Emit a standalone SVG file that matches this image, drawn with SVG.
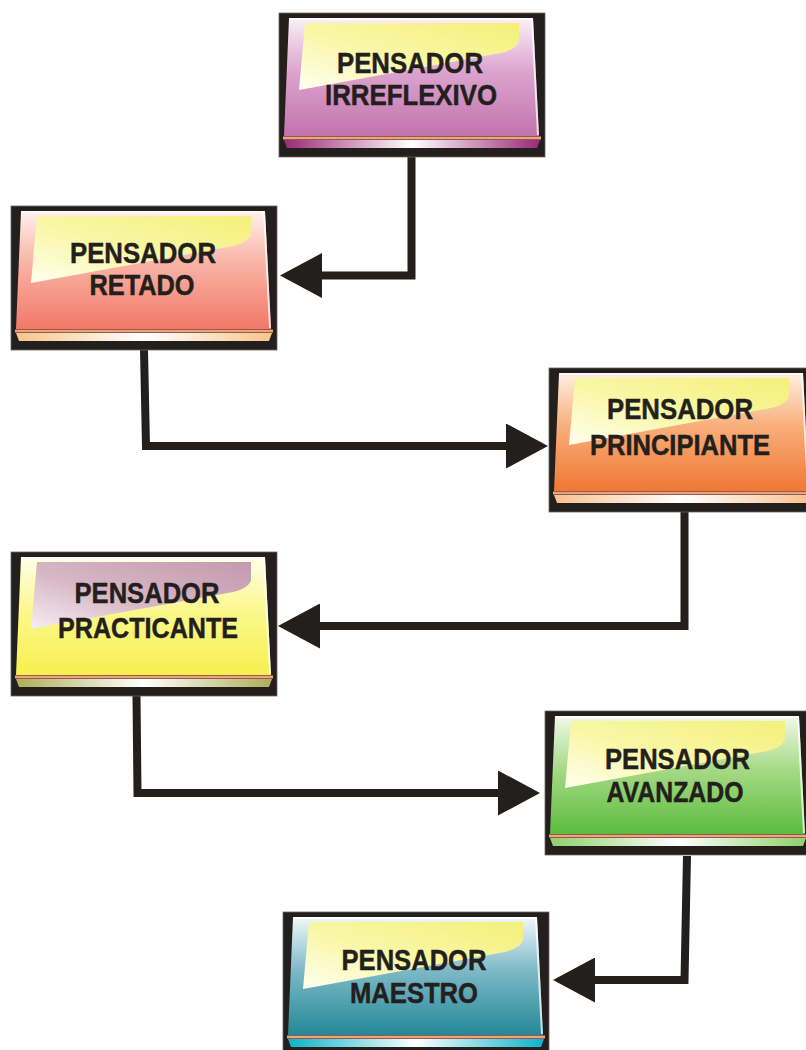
<svg xmlns="http://www.w3.org/2000/svg" width="806" height="1050" viewBox="0 0 806 1050">
  <style>
    .frame { fill: #231f1c; stroke: #6b6865; stroke-width: 0.8; }
    .edge { fill: none; stroke: #ffffff; stroke-width: 2; stroke-opacity: 0.75; }
    .rule { fill: #f4a07c; }
    .label { font-family: "Liberation Sans", Arial, sans-serif; font-weight: bold; font-size: 30px; fill: #231f1c; stroke: #231f1c; stroke-width: 0.5; text-anchor: middle; }
    .wire { fill: none; stroke: #231f1c; stroke-width: 8; stroke-linejoin: miter; marker-end: url(#head); }
  </style>
  <defs>
    <marker id="head" viewBox="0 0 42 45" refX="22" refY="22.5" markerWidth="42" markerHeight="45" markerUnits="userSpaceOnUse" orient="auto">
      <path d="M0,0 L42,22.5 L0,45 Z" fill="#231f1c"/>
    </marker>

    <!-- card faces -->
    <linearGradient id="face1" x1="0" y1="0" x2="0" y2="1">
      <stop offset="0" stop-color="#fbf0f8"/><stop offset="0.45" stop-color="#dca4cf"/><stop offset="1" stop-color="#c274ab"/>
    </linearGradient>
    <linearGradient id="face2" x1="0" y1="0" x2="0" y2="1">
      <stop offset="0" stop-color="#fff0ec"/><stop offset="0.45" stop-color="#f9b2a4"/><stop offset="1" stop-color="#f27868"/>
    </linearGradient>
    <linearGradient id="face3" x1="0" y1="0" x2="0" y2="1">
      <stop offset="0" stop-color="#fff0e4"/><stop offset="0.45" stop-color="#f8ae7a"/><stop offset="1" stop-color="#f07834"/>
    </linearGradient>
    <linearGradient id="face4" x1="0" y1="0" x2="0" y2="1">
      <stop offset="0" stop-color="#ffffe8"/><stop offset="0.45" stop-color="#fbf88e"/><stop offset="1" stop-color="#f6f04e"/>
    </linearGradient>
    <linearGradient id="face5" x1="0" y1="0" x2="0" y2="1">
      <stop offset="0" stop-color="#f0fae8"/><stop offset="0.45" stop-color="#a6da86"/><stop offset="1" stop-color="#5cbc3e"/>
    </linearGradient>
    <linearGradient id="face6" x1="0" y1="0" x2="0" y2="1">
      <stop offset="0" stop-color="#f0f8fa"/><stop offset="0.45" stop-color="#7eb9c6"/><stop offset="1" stop-color="#248898"/>
    </linearGradient>

    <!-- base strips -->
    <linearGradient id="strip1"><stop offset="0" stop-color="#9a2878"/><stop offset="0.5" stop-color="#ffffff"/><stop offset="1" stop-color="#9a2878"/></linearGradient>
    <linearGradient id="strip2"><stop offset="0" stop-color="#f8c48c"/><stop offset="0.5" stop-color="#ffffff"/><stop offset="1" stop-color="#f8c48c"/></linearGradient>
    <linearGradient id="strip3"><stop offset="0" stop-color="#f8c090"/><stop offset="0.5" stop-color="#ffffff"/><stop offset="1" stop-color="#f8c090"/></linearGradient>
    <linearGradient id="strip4"><stop offset="0" stop-color="#aeae58"/><stop offset="0.5" stop-color="#ffffff"/><stop offset="1" stop-color="#aeae58"/></linearGradient>
    <linearGradient id="strip5"><stop offset="0" stop-color="#8ed06a"/><stop offset="0.5" stop-color="#ffffff"/><stop offset="1" stop-color="#8ed06a"/></linearGradient>
    <linearGradient id="strip6"><stop offset="0" stop-color="#0cb2c8"/><stop offset="0.5" stop-color="#ffffff"/><stop offset="1" stop-color="#0cb2c8"/></linearGradient>

    <!-- glossy sheen -->
    <linearGradient id="sheen" x1="1" y1="0" x2="0" y2="1">
      <stop offset="0" stop-color="#f4f07a"/><stop offset="0.55" stop-color="#f9f7a8"/><stop offset="1" stop-color="#fffff0"/>
    </linearGradient>
    <linearGradient id="sheenMauve" x1="1" y1="0" x2="0" y2="1">
      <stop offset="0" stop-color="#c49aae"/><stop offset="0.55" stop-color="#d6b6c4"/><stop offset="1" stop-color="#f6eef2"/>
    </linearGradient>

    <!-- card parts shared by every node -->
    <rect id="cardFrame" class="frame" x="0" y="0" width="266" height="144"/>
    <polygon id="cardFace" points="10,5 254,5 260,123 5,123"/>
    <path id="cardSheen" d="M26,10 L240,10 L240,28 Q238,36 222,40 L20,77 Z"/>
    <polyline id="cardEdge" class="edge" points="11,6 253,6 259,122"/>
    <rect id="cardRule" class="rule" x="4" y="123.5" width="258" height="3"/>
    <polygon id="cardStrip" points="5,127 261,127 258,135 8,135"/>
  </defs>

  <g id="connectors">
    <path class="wire" d="M411.5,157 V275.5 H300"/>
    <path class="wire" d="M144,350 L146,446 H528"/>
    <path class="wire" d="M684.5,512 V626 H298"/>
    <path class="wire" d="M136.5,696 L137.5,793 H520"/>
    <path class="wire" d="M687,856 L684.5,980 H573"/>
  </g>

  <g id="pensador-irreflexivo" transform="translate(279,13)">
    <use href="#cardFrame"/>
    <use href="#cardFace" fill="url(#face1)"/>
    <use href="#cardSheen" fill="url(#sheen)"/>
    <use href="#cardEdge"/>
    <use href="#cardRule"/>
    <use href="#cardStrip" fill="url(#strip1)"/>
    <text class="label" x="131" y="60" textLength="146" lengthAdjust="spacingAndGlyphs">PENSADOR</text>
    <text class="label" x="132" y="92" textLength="172" lengthAdjust="spacingAndGlyphs">IRREFLEXIVO</text>
  </g>

  <g id="pensador-retado" transform="translate(11,206)">
    <use href="#cardFrame"/>
    <use href="#cardFace" fill="url(#face2)"/>
    <use href="#cardSheen" fill="url(#sheen)"/>
    <use href="#cardEdge"/>
    <use href="#cardRule"/>
    <use href="#cardStrip" fill="url(#strip2)"/>
    <text class="label" x="132" y="57" textLength="146" lengthAdjust="spacingAndGlyphs">PENSADOR</text>
    <text class="label" x="131" y="89" textLength="105" lengthAdjust="spacingAndGlyphs">RETADO</text>
  </g>

  <g id="pensador-principiante" transform="translate(549,368)">
    <use href="#cardFrame"/>
    <use href="#cardFace" fill="url(#face3)"/>
    <use href="#cardSheen" fill="url(#sheen)"/>
    <use href="#cardEdge"/>
    <use href="#cardRule"/>
    <use href="#cardStrip" fill="url(#strip3)"/>
    <text class="label" x="131" y="51" textLength="146" lengthAdjust="spacingAndGlyphs">PENSADOR</text>
    <text class="label" x="131" y="87" textLength="180" lengthAdjust="spacingAndGlyphs">PRINCIPIANTE</text>
  </g>

  <g id="pensador-practicante" transform="translate(11,552)">
    <use href="#cardFrame"/>
    <use href="#cardFace" fill="url(#face4)"/>
    <use href="#cardSheen" fill="url(#sheenMauve)"/>
    <use href="#cardEdge"/>
    <use href="#cardRule"/>
    <use href="#cardStrip" fill="url(#strip4)"/>
    <text class="label" x="136" y="51" textLength="145" lengthAdjust="spacingAndGlyphs">PENSADOR</text>
    <text class="label" x="137" y="86" textLength="180" lengthAdjust="spacingAndGlyphs">PRACTICANTE</text>
  </g>

  <g id="pensador-avanzado" transform="translate(545,711)">
    <use href="#cardFrame"/>
    <use href="#cardFace" fill="url(#face5)"/>
    <use href="#cardSheen" fill="url(#sheen)"/>
    <use href="#cardEdge"/>
    <use href="#cardRule"/>
    <use href="#cardStrip" fill="url(#strip5)"/>
    <text class="label" x="132.5" y="57.5" textLength="145" lengthAdjust="spacingAndGlyphs">PENSADOR</text>
    <text class="label" x="130" y="90.5" textLength="137" lengthAdjust="spacingAndGlyphs">AVANZADO</text>
  </g>

  <g id="pensador-maestro" transform="translate(283,912)">
    <use href="#cardFrame"/>
    <use href="#cardFace" fill="url(#face6)"/>
    <use href="#cardSheen" fill="url(#sheen)"/>
    <use href="#cardEdge"/>
    <use href="#cardRule"/>
    <use href="#cardStrip" fill="url(#strip6)"/>
    <text class="label" x="131" y="58" textLength="145" lengthAdjust="spacingAndGlyphs">PENSADOR</text>
    <text class="label" x="131" y="91" textLength="128" lengthAdjust="spacingAndGlyphs">MAESTRO</text>
  </g>
</svg>
